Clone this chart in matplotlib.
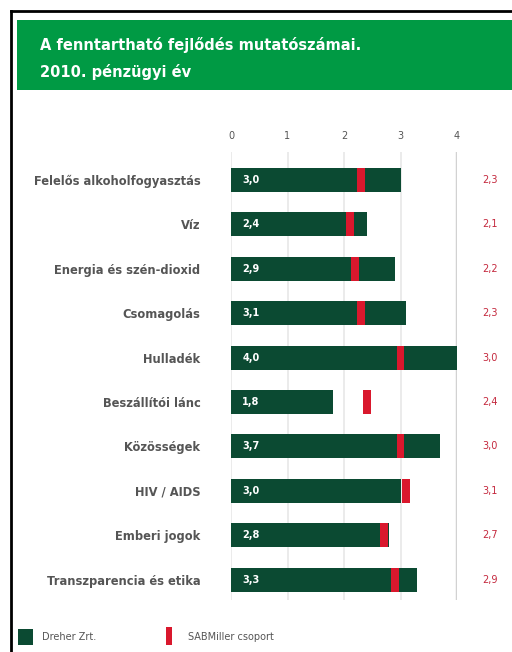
import matplotlib.pyplot as plt
from matplotlib.patches import Rectangle
import numpy as np

categories = ['Felelős alkoholfogyasztás', 'Víz', 'Energia és szén-dioxid', 'Csomagolás',
              'Hulladék', 'Beszállítói lánc', 'Közösségek', 'HIV / AIDS', 'Emberi jogok',
              'Transzparencia és etika']
dreher = [3.0, 2.4, 2.9, 3.1, 4.0, 1.8, 3.7, 3.0, 2.8, 3.3]
sabmiller = [2.3, 2.1, 2.2, 2.3, 3.0, 2.4, 3.0, 3.1, 2.7, 2.9]
xticks = [0, 1, 2, 3, 4]

dark_green = '#0b4a32'
red = '#d9182d'
header_green = '#009a44'
label_gray = '#555555'

W, H = 512, 652
fig = plt.figure(figsize=(W / 100, H / 100), dpi=100)

def px(x0, y0, w, h):
    # pixel box (top-left origin) -> figure fraction
    return [x0 / W, 1 - (y0 + h) / H, w / W, h / H]

# frame lines and header
fig.add_artist(plt.Line2D([11 / W, 11 / W], [0, 1 - 11 / H], color='black', lw=2))
fig.add_artist(plt.Line2D([11 / W, 1], [1 - 11 / H, 1 - 11 / H], color='black', lw=2))
fig.add_artist(Rectangle((17 / W, 1 - 90 / H), (W - 17) / W, 70 / H, transform=fig.transFigure,
                         color=header_green, lw=0))
fig.text(40 / W, 1 - 45 / H, 'A fenntartható fejlődés mutatószámai.', color='white',
         fontsize=10.5, fontweight='bold', va='center')
fig.text(40 / W, 1 - 72 / H, '2010. pénzügyi év', color='white',
         fontsize=10.5, fontweight='bold', va='center')

ax = fig.add_axes(px(231, 152, 226, 448))
y = np.arange(len(categories))
bar_h = 0.54

for gx in xticks:
    if gx == 4:
        ax.axvline(gx, color='#d2d2d2', lw=2.5, zorder=0)
    else:
        ax.axvline(gx, color='#e8e8e8', lw=1.2, zorder=0)

ax.barh(y, dreher, height=bar_h, color=dark_green, zorder=2)
ax.barh(y, [0.14] * len(y), left=np.array(sabmiller) - 0.07, height=bar_h, color=red, zorder=3)

for i in range(len(y)):
    ax.text(0.2, y[i], f'{dreher[i]:.1f}'.replace('.', ','), color='white', fontsize=7,
            fontweight='bold', va='center', ha='left', zorder=4)
    ax.text(4.44, y[i], f'{sabmiller[i]:.1f}'.replace('.', ','), color='#c4283d', fontsize=7,
            va='center', ha='left', clip_on=False)

ax.set_xlim(0, 4)
ax.set_ylim(9.46, -0.63)
ax.xaxis.tick_top()
ax.set_xticks(xticks)
ax.set_xticklabels([str(t) for t in xticks], fontsize=7, color=label_gray)
ax.tick_params(axis='x', length=0, pad=8)
ax.set_yticks(y)
ax.set_yticklabels(categories, fontsize=8.3, fontweight='bold', color=label_gray)
ax.tick_params(axis='y', length=0, pad=22)
for s in ax.spines.values():
    s.set_visible(False)

# legend
fig.add_artist(Rectangle((18 / W, 1 - 645 / H), 15 / W, 16 / H, transform=fig.transFigure,
                         color=dark_green, lw=0))
fig.text(42 / W, 1 - 637 / H, 'Dreher Zrt.', color=label_gray, fontsize=7, va='center')
fig.add_artist(Rectangle((166 / W, 1 - 645 / H), 6 / W, 18 / H, transform=fig.transFigure,
                         color=red, lw=0))
fig.text(188 / W, 1 - 637 / H, 'SABMiller csoport', color=label_gray, fontsize=7, va='center')

fig.savefig('out.png', dpi=100)
